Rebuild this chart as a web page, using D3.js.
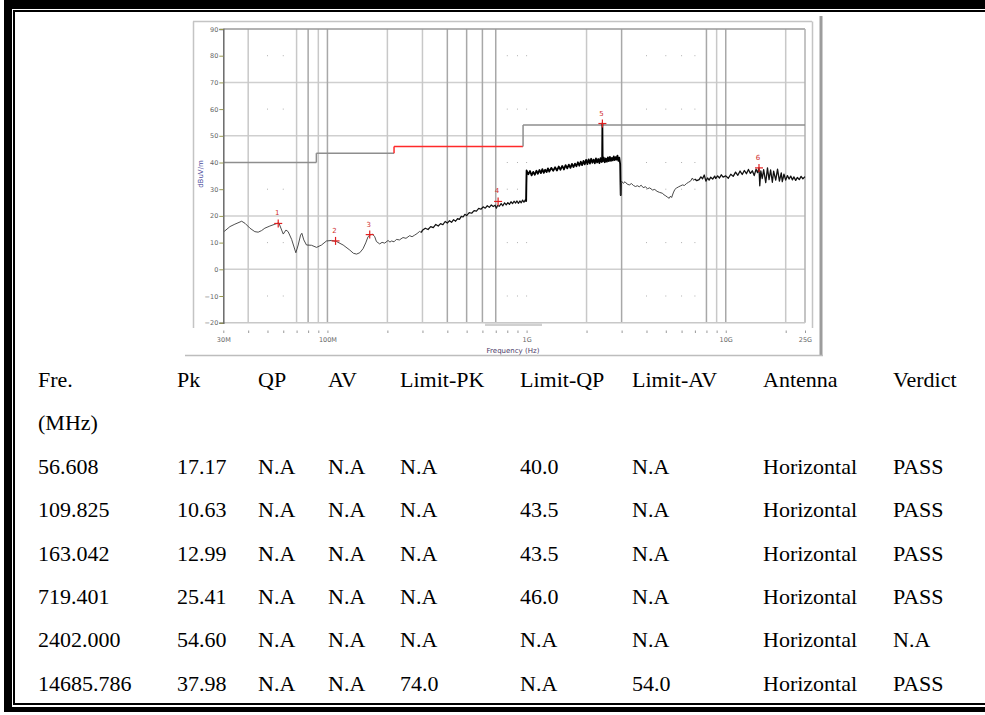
<!DOCTYPE html>
<html><head><meta charset="utf-8">
<script src="https://cdn.jsdelivr.net/npm/d3@7"></script>
<style>html,body{margin:0;padding:0;background:#fff;} svg{display:block;}</style>
</head><body>
<svg id="c" width="985" height="715"></svg>
<script>
// ---------- DATA ----------
const traceFreq = [
 30,32.4,34.3,37.1,38.6,40.8,43.2,44.9,46.7,48.5,51.4,54.5,57.0,58.9,60.0,61.9,63.5,66.1,69.4,71.3,73.3,74.4,76.1,78.5,83.2,88.2,93.4,98.9,104.8,111.1,119.9,129.5,135,140,145.3,150.9,155.7,159.9,163.1,168.3,172.8,176.2,183,188,193.9,201.5,206,210,216,222,230,239.6,248,258.8,266,274.2,282,290.5,296,
 300,310,320,330,340,350,360,370,380,390,400,410,420,430,440,450,460,470,480,490,500,515,530,545,560,575,590,605,620,635,650,665,680,695,705,715,730,745,760,775,790,805,820,835,850,865,880,895,910,925,940,955,970,985,995,
 1000,1020,1040,1060,1080,1100,1120,1140,1160,1180,1200,1220,1240,1260,1280,1300,1330,1360,1390,1420,1450,1480,1510,1540,1570,1600,1630,1660,1690,1720,1750,1780,1810,1840,1870,1900,1930,1960,1990,2020,2050,2080,2110,2140,2170,2200,2230,2260,2290,2320,2350,2380,2395,2402,2410,2440,2470,2500,2530,2560,2590,2620,2650,2680,2710,2740,2770,2800,2830,2860,2890,2920,2950,2962,2968,2975,
 3000,3060,3120,3200,3280,3360,3440,3520,3600,3680,3760,3850,3950,4050,4150,4290,4400,4520,4650,4800,4900,5000,5100,5200,5280,5350,5450,5550,5650,5800,5950,6070,6200,6350,6500,6650,6800,6900,7000,7150,
 7350,7500,7650,7800,7950,8100,8250,8400,8600,8800,8900,9100,9300,9500,9700,10000,10300,10600,10900,11200,11500,11800,12100,12400,12700,13000,13300,13600,13900,14200,14450,14686,14820,15000,15250,15500,15880,16200,16500,16800,17140,17400,17820,18200,18600,19000,19230,19600,20000,20400,20800,21200,21600,22000,22450,22900,23400,23900,24400,25000
];
const traceLevel = [
 13.9,16.0,16.9,18.0,17.2,15.4,14.1,13.9,14.5,15.4,16.2,16.9,17.4,14.7,13.2,14.7,14.1,11.2,6.2,9.1,12.8,13.5,11.0,9.1,9.0,8.2,9.1,10.6,10.8,10.4,9.1,7.2,6.0,5.7,6.2,7.7,9.9,12.2,12.8,13.2,12.2,10.4,9.5,10.1,9.8,10.8,10.2,10.6,10.3,11.2,11.0,11.9,11.6,12.6,12.2,12.8,13.4,14.2,13.8,
 14.6,15.4,14.9,16.0,15.6,16.8,16.2,17.1,16.7,17.9,17.3,18.2,17.6,18.6,18.0,19.0,18.7,19.8,19.6,20.6,20.1,21.2,21.0,22.0,21.8,22.8,22.5,23.4,22.9,23.8,23.2,24.1,23.5,24.0,22.9,23.9,23.6,24.6,23.8,24.9,24.1,25.0,24.3,25.3,24.6,25.5,24.8,25.6,24.7,25.6,24.9,25.9,25.1,26.0,25.4,
 37.0,35.6,36.8,35.2,36.5,35.4,36.9,35.8,37.2,36.0,37.5,36.1,37.3,36.4,37.8,36.6,38.0,36.9,38.2,37.0,38.5,37.3,38.7,37.4,39.0,37.8,39.2,38.0,39.5,38.3,39.6,38.6,40.1,38.8,40.3,39.0,40.6,39.3,41.0,39.4,41.2,39.6,41.4,39.9,41.1,39.7,41.5,40.0,41.3,39.8,41.6,40.2,41.0,54.6,40.4,41.8,40.1,41.5,40.3,41.9,40.5,42.1,40.6,41.7,40.8,42.3,40.9,42.0,41.1,42.6,40.6,41.8,39.5,31.5,27.8,32.4,
 33.0,32.2,32.8,31.9,31.6,32.1,31.4,31.0,31.3,30.9,31.5,30.6,30.9,30.2,30.5,29.7,29.9,29.2,28.8,28.5,27.9,27.5,27.0,26.6,27.4,26.9,28.6,29.9,30.4,30.9,31.3,31.6,31.4,32.1,32.6,33.0,34.2,33.3,33.8,33.2,
 33.6,34.6,33.9,35.3,33.0,34.2,33.4,34.5,33.8,34.9,34.0,35.0,34.2,35.4,34.5,35.0,34.1,35.6,34.8,36.4,35.2,36.8,35.5,37.0,35.8,37.4,35.9,36.9,35.1,37.5,36.2,38.0,31.3,36.9,34.0,37.3,32.5,38.0,33.6,37.2,32.6,36.8,33.4,37.5,33.0,36.1,32.8,35.6,33.4,35.1,33.8,34.9,33.5,34.6,33.3,34.4,33.6,34.8,33.9,34.7
];
const limitBreaks = [30, 88, 216, 960, 25000];
const limitValues = [40, 43.5, 46, 54];
const markerFreq = [56.608, 109.825, 163.042, 719.401, 2402.000, 14685.786];
const markerLevel = [17.17, 10.63, 12.99, 25.41, 54.60, 37.98];
const markerIds = ["1","2","3","4","5","6"];
const gridFreqs = [40,70,80,90,100,200,300,400,500,600,700,2000,3000,8000,9000,10000,20000];
const gridFreqsDark = [80,100,400,500,600,700,3000,8000,10000];
const dotFreqs = [50,60,800,900,1000,4000,5000,6000,7000];
const dotLevels = [80,60,40,30,10,-10];
const gridLevels = [70,50,20,0];
const yTicks = [90,80,70,60,50,40,30,20,10,0,-10,-20];
const xTickFreqs = [30,40,50,60,70,80,90,100,200,300,400,500,600,700,800,900,1000,2000,3000,4000,5000,6000,7000,8000,9000,10000,20000,25000];
const xLabelFreqs = [30,100,1000,10000,25000];
const xLabelTexts = ["30M","100M","1G","10G","25G"];

const headRow1 = ["Fre.","Pk","QP","AV","Limit-PK","Limit-QP","Limit-AV","Antenna","Verdict"];
const headRow2 = ["(MHz)","","","","","","","",""];
const colFre = ["56.608","109.825","163.042","719.401","2402.000","14685.786"];
const colPk = ["17.17","10.63","12.99","25.41","54.60","37.98"];
const colQP = ["N.A","N.A","N.A","N.A","N.A","N.A"];
const colAV = ["N.A","N.A","N.A","N.A","N.A","N.A"];
const colLimPK = ["N.A","N.A","N.A","N.A","N.A","74.0"];
const colLimQP = ["40.0","43.5","43.5","46.0","N.A","N.A"];
const colLimAV = ["N.A","N.A","N.A","N.A","N.A","54.0"];
const colAnt = ["Horizontal","Horizontal","Horizontal","Horizontal","Horizontal","Horizontal"];
const colVerdict = ["PASS","PASS","PASS","PASS","N.A","PASS"];

// ---------- DRAW ----------
const svg = d3.select("#c");
svg.append("rect").attr("width",985).attr("height",715).attr("fill","#fff");

// page frame
const fr = svg.append("g");
fr.append("rect").attr("x",4).attr("y",0).attr("width",981).attr("height",9).attr("fill","#000");
fr.append("rect").attr("x",4).attr("y",0).attr("width",8).attr("height",712).attr("fill","#000");
fr.append("rect").attr("x",4).attr("y",707).attr("width",981).attr("height",5).attr("fill","#000");
fr.append("rect").attr("x",13).attr("y",10).attr("width",972).attr("height",2).attr("fill","#000");
fr.append("rect").attr("x",13).attr("y",10).attr("width",2).attr("height",695).attr("fill","#000");
fr.append("rect").attr("x",13).attr("y",703).attr("width",972).attr("height",2).attr("fill","#000");

// chart image frame
const cf = svg.append("g");
cf.append("line").attr("x1",193.5).attr("x2",193.5).attr("y1",21.5).attr("y2",328).attr("stroke","#c4c4c4").attr("stroke-width",1.5);
cf.append("line").attr("x1",193).attr("x2",812).attr("y1",21.5).attr("y2",21.5).attr("stroke","#c4c4c4").attr("stroke-width",1.5);
cf.append("line").attr("x1",812.5).attr("x2",812.5).attr("y1",21.5).attr("y2",328).attr("stroke","#c4c4c4").attr("stroke-width",1.5);
cf.append("rect").attr("x",819.5).attr("y",16).attr("width",3).attr("height",340).attr("fill","#9c9c9c");
cf.append("line").attr("x1",185).attr("x2",823).attr("y1",355.5).attr("y2",355.5).attr("stroke","#bdbdbd").attr("stroke-width",1.5);

const x = d3.scaleLog().domain([30,25000]).range([223.3,805]);
const y = d3.scaleLinear().domain([-20,90]).range([322.7,29]);

const g = svg.append("g");
g.selectAll(".hg").data(gridLevels).enter().append("line")
 .attr("x1",x(30)).attr("x2",x(25000)).attr("y1",d=>y(d)).attr("y2",d=>y(d))
 .attr("stroke","#cfcfcf").attr("stroke-width",1.5);
g.selectAll(".vg").data(gridFreqs).enter().append("line")
 .attr("x1",d=>x(d)).attr("x2",d=>x(d)).attr("y1",y(90)).attr("y2",y(-20))
 .attr("stroke",d=>gridFreqsDark.includes(d)?"#a8a8a8":"#c8c8c8").attr("stroke-width",1.5);
const dots = [];
dotFreqs.forEach(f=>dotLevels.forEach(l=>dots.push([f,l])));
g.selectAll(".dt").data(dots).enter().append("rect")
 .attr("x",d=>x(d[0])-0.5).attr("y",d=>y(d[1])-0.5).attr("width",1).attr("height",1).attr("fill","#b0b0b0");
g.append("line").attr("x1",x(30)).attr("x2",x(25000)).attr("y1",y(90)).attr("y2",y(90)).attr("stroke","#9a9a9a").attr("stroke-width",1.5);
g.append("line").attr("x1",x(25000)).attr("x2",x(25000)).attr("y1",y(90)).attr("y2",y(-20)).attr("stroke","#b0b0b0").attr("stroke-width",1.5);
g.append("line").attr("x1",x(30)).attr("x2",x(25000)).attr("y1",y(-20)).attr("y2",y(-20)).attr("stroke","#c8c8c8").attr("stroke-width",1.5);
g.append("rect").attr("x",485).attr("y",323.5).attr("width",57).attr("height",2.5).attr("fill","#d0d0d0");

// limit line
for (let i=0;i<limitValues.length;i++){
  const col = (i===2)?"#ff2a2a":"#8e8e8e";
  g.append("line").attr("x1",x(limitBreaks[i])).attr("x2",x(limitBreaks[i+1]))
   .attr("y1",y(limitValues[i])).attr("y2",y(limitValues[i])).attr("stroke",col).attr("stroke-width",1.5);
  if (i>0){
    g.append("line").attr("x1",x(limitBreaks[i])).attr("x2",x(limitBreaks[i]))
     .attr("y1",y(limitValues[i-1])).attr("y2",y(limitValues[i])).attr("stroke",col).attr("stroke-width",1.5);
  }
}

// trace, drawn in bands with different apparent density
const pts = traceFreq.map((f,i)=>[f,traceLevel[i]]);
const line = d3.line().x(d=>x(d[0])).y(d=>y(d[1])).curve(d3.curveLinear);
const bands = [[30,300,"#3a3a3a",0.9],[296,1000,"#111",1.2],[995,2975,"#000",1.8],[2968,7150,"#333",0.9],[7000,25000,"#111",1.3]];
bands.forEach(b=>{
  const seg = pts.filter(p=>p[0]>=b[0] && p[0]<=b[1]);
  g.append("path").datum(seg).attr("d",line).attr("fill","none")
   .attr("stroke",b[2]).attr("stroke-width",b[3]).attr("stroke-linejoin","round");
});

// markers
const mk = g.selectAll(".mk").data(markerFreq.map((f,i)=>({f,l:markerLevel[i],id:markerIds[i]}))).enter().append("g")
 .attr("transform",d=>`translate(${x(d.f)},${y(d.l)})`);
mk.append("line").attr("x1",-4).attr("x2",4).attr("y1",0).attr("y2",0).attr("stroke","#e02020").attr("stroke-width",1.2);
mk.append("line").attr("x1",0).attr("x2",0).attr("y1",-4).attr("y2",4).attr("stroke","#e02020").attr("stroke-width",1.2);
mk.append("text").attr("x",-1).attr("y",-8).attr("text-anchor","middle").attr("font-family","DejaVu Sans").attr("font-size",7).attr("fill","#d03030").text(d=>d.id);

// axes
const yAxis = d3.axisLeft(y).tickValues(yTicks).tickSize(4).tickPadding(1);
const ya = svg.append("g").attr("transform",`translate(${x(30)},0)`).call(yAxis);
ya.select(".domain").attr("stroke","#6a6a6a").attr("stroke-width",1.5);
ya.selectAll(".tick line").attr("stroke","#9a9a50");
ya.selectAll("text").attr("font-family","DejaVu Sans").attr("font-size",6.5).attr("fill","#666");

const xAxis = d3.axisBottom(x).tickValues(xTickFreqs).tickSize(2.5).tickPadding(4)
 .tickFormat(d=>{const k=xLabelFreqs.indexOf(d);return k>=0?xLabelTexts[k]:"";});
const xa = svg.append("g").attr("transform",`translate(0,330.5)`).call(xAxis);
xa.select(".domain").remove();
xa.selectAll(".tick line").attr("stroke","#999");
xa.selectAll("text").attr("font-family","DejaVu Sans").attr("font-size",6.5).attr("fill","#666");

svg.append("text").attr("x",513).attr("y",353).attr("text-anchor","middle").attr("font-family","DejaVu Sans").attr("font-size",7).attr("fill","#4a3a66").text("Frequency (Hz)");
svg.append("text").attr("transform","translate(203,174) rotate(-90)").attr("text-anchor","middle").attr("font-family","DejaVu Sans").attr("font-size",7).attr("fill","#4a4a9a").text("dBuV/m");

// table
const colX = [38,177,258,328,400,520,632,763,893];
const rowY0 = 387, rowStep = 43.4;
const rows = [headRow1, headRow2];
colFre.forEach((v,i)=>rows.push([v,colPk[i],colQP[i],colAV[i],colLimPK[i],colLimQP[i],colLimAV[i],colAnt[i],colVerdict[i]]));
const tb = svg.append("g").attr("font-family","'Liberation Serif','Times New Roman',serif").attr("font-size",22).attr("fill","#000");
rows.forEach((r,ri)=>{
  tb.selectAll(null).data(r).enter().append("text")
   .attr("x",(d,ci)=>colX[ci]).attr("y",rowY0+ri*rowStep).text(d=>d);
});
</script>
</body></html>
